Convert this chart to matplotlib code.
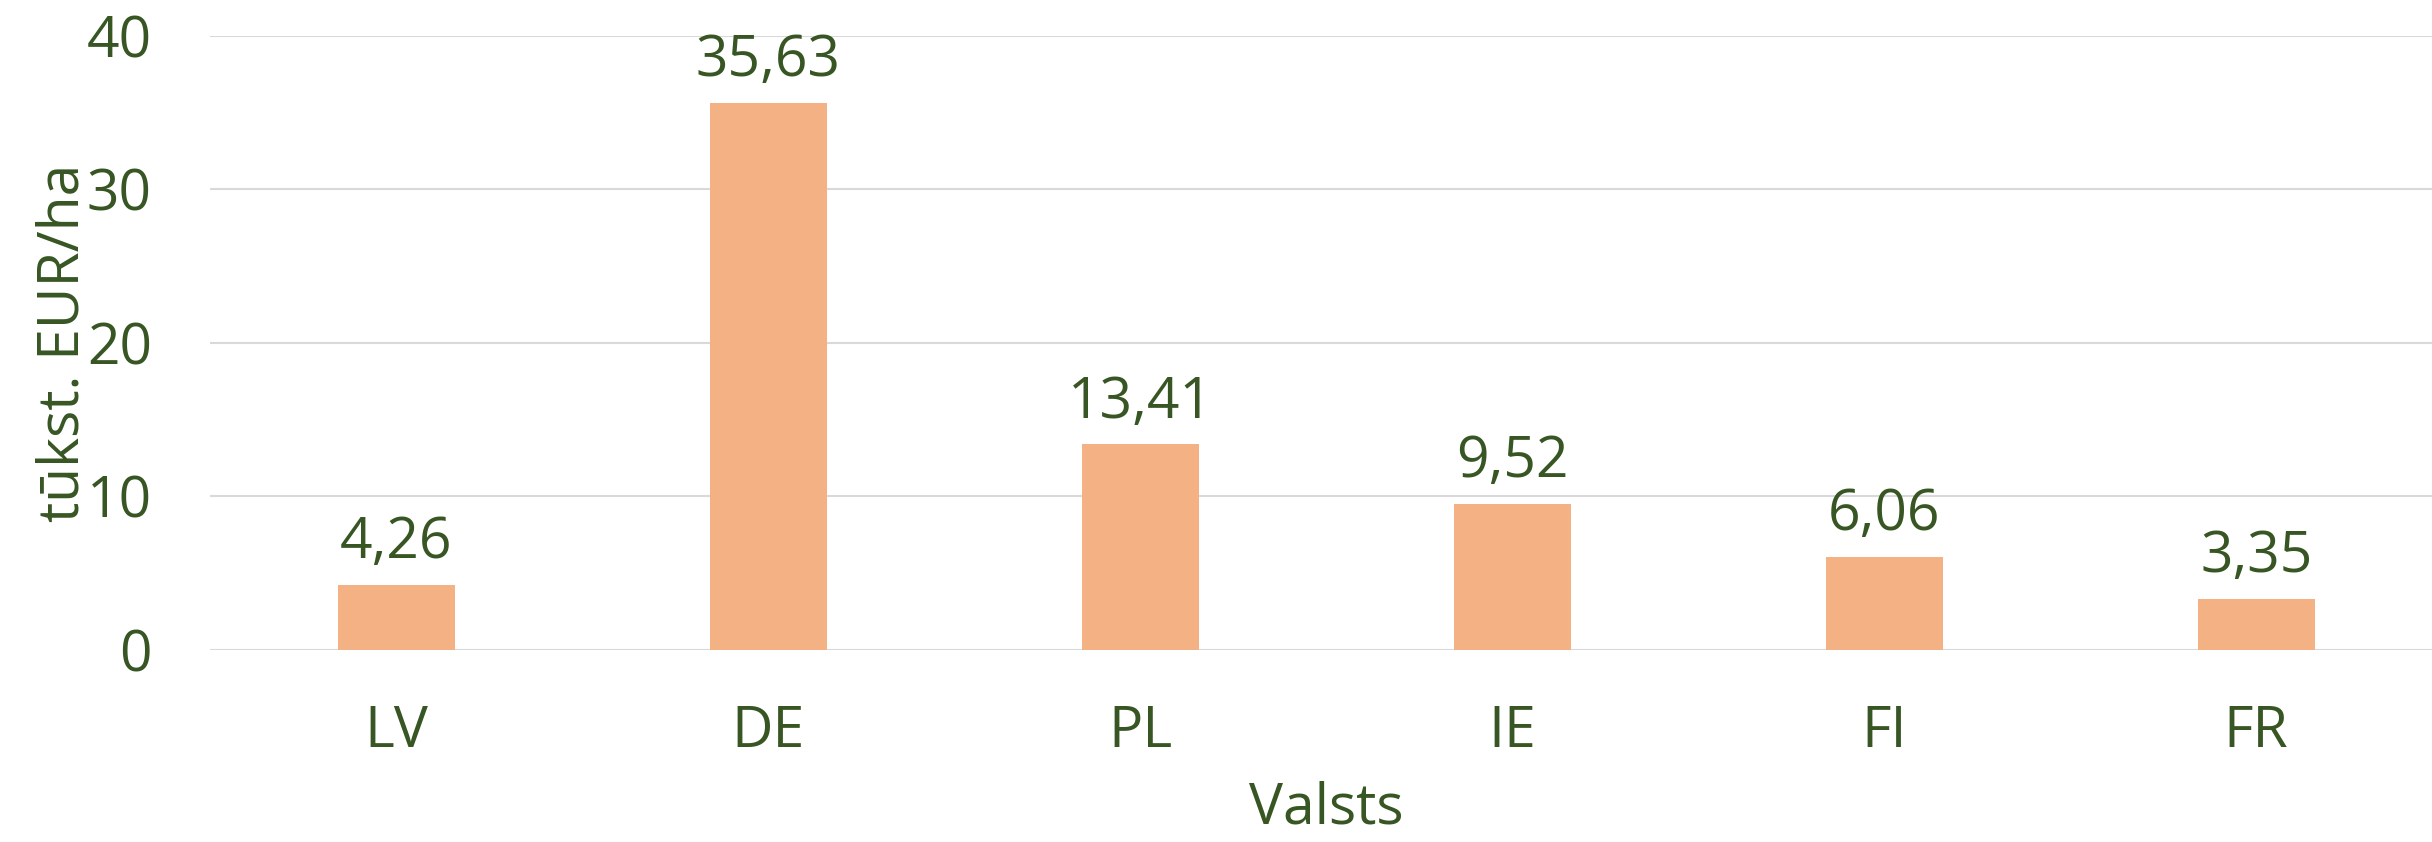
import matplotlib
matplotlib.use("Agg")
import matplotlib.pyplot as plt

categories = ["LV", "DE", "PL", "IE", "FI", "FR"]
values = [4.26, 35.63, 13.41, 9.52, 6.06, 3.35]
value_labels = ["4,26", "35,63", "13,41", "9,52", "6,06", "3,35"]
yticks = [0, 10, 20, 30, 40]

TEXT = "#375623"
BAR = "#F4B183"
GRID = "#D9D9D9"
FONT = ["Open Sans", "DejaVu Sans"]
FS = 41

plt.rcParams['font.family'] = FONT

fig = plt.figure(figsize=(24.32, 8.42), dpi=100)
ax = fig.add_axes([0.0864, 0.228, 0.9178, 0.7296])

x = list(range(len(categories)))
bars = ax.bar(x, values, width=0.314, color=BAR, zorder=2)

for xi, v, lab in zip(x, values, value_labels):
    ax.annotate(lab, (xi, v), xytext=(0, 9), textcoords="offset points",
                ha="center", va="bottom", fontsize=FS, color=TEXT)

ax.set_xlim(-0.5, len(categories) - 0.5)
ax.set_ylim(0, 40)
ax.set_yticks(yticks)
ax.set_yticklabels([str(t) for t in yticks])
ax.set_xticks(x)
ax.set_xticklabels(categories)
ax.tick_params(axis="both", length=0, labelsize=FS, colors=TEXT)
ax.tick_params(axis="x", pad=39)
ax.tick_params(axis="y", pad=42)

ax.grid(axis="y", color=GRID, linewidth=1.5, zorder=0)
ax.set_axisbelow(True)
for s in ax.spines.values():
    s.set_visible(False)

ax.set_xlabel("Valsts", fontsize=FS, color=TEXT, labelpad=14)
ax.set_ylabel("tūkst. EUR/ha", fontsize=FS, color=TEXT, labelpad=-4)

fig.savefig("out.png", dpi=100, facecolor="white")
